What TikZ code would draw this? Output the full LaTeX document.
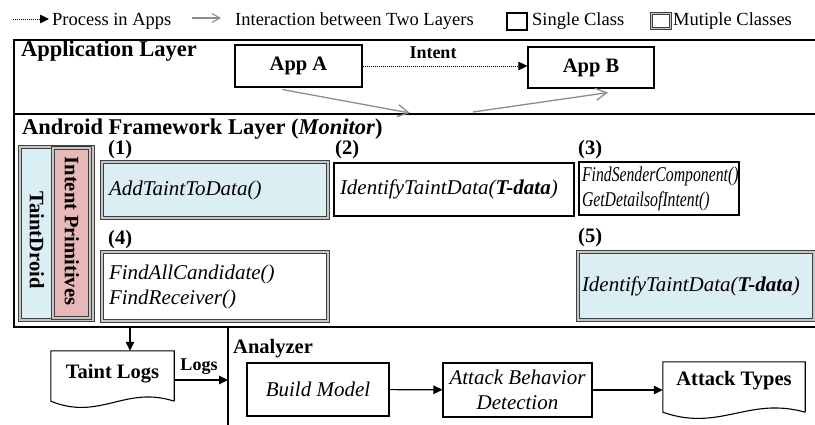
\documentclass[tikz,border=0pt]{standalone}
\usepackage{fontspec}
\usepackage{graphicx}
\setmainfont{Liberation Serif}
\usetikzlibrary{arrows.meta}
\definecolor{lblue}{HTML}{DAEEF3}
\definecolor{lpink}{HTML}{E6B9B8}
\definecolor{igrey}{HTML}{8C8C8C}
\newcommand{\narrowtxt}[1]{\scalebox{0.75}[1]{#1}}
\tikzset{
 txt/.style={font=\fontsize{20.5}{25}\selectfont, inner sep=0pt},
 itx/.style={font=\fontsize{21}{25}\selectfont\itshape},
 btx/.style={font=\fontsize{20.5}{25}\selectfont\bfseries, inner sep=0pt},
 ttl/.style={font=\fontsize{22.5}{26}\selectfont\bfseries, inner sep=0pt},
 lgd/.style={font=\fontsize{18.5}{22}\selectfont, inner sep=0pt},
 sbox/.style={draw=black, line width=1.1pt, fill=white, inner sep=0pt},
 mbox/.style={draw=black!75, line width=0.8pt, double=gray!45, double distance=1.6pt, inner sep=0pt},
 layer/.style={line width=2.4pt},
 doc/.style={line width=1.1pt, fill=white, line join=miter},
 flow/.style={line width=1.1pt, -{Triangle[length=9pt,width=8.5pt]}},
 proc/.style={dash pattern=on 1pt off 1pt, line width=0.8pt, -{Triangle[length=9pt,width=8.5pt,sep=0pt]}},
 inter/.style={draw=igrey, line width=1.3pt, -{Straight Barb[length=11pt,width=12pt]}},
}
\begin{document}
\begin{tikzpicture}[x=1pt,y=-1pt]
\useasboundingbox (0,0) rectangle (815,425);
% ---------- legend
\coordinate (lgA) at (13,19);
\coordinate (lgB) at (49,19);
\draw[proc] (lgA) -- (lgB);
\node[lgd, anchor=base west] (lgt1) at (52,26) {Process in Apps};
\coordinate (lgC) at (192,18);
\coordinate (lgD) at (221,18);
\draw[draw=igrey, line width=1.1pt, -{Straight Barb[length=8pt,width=9pt]}] (lgC) -- (lgD);
\node[lgd, anchor=base west] (lgt2) at (235,26) {Interaction between Two Layers};
\node[sbox, minimum width=20pt, minimum height=17pt] (lgs) at (517,21.5) {};
\node[lgd, anchor=base west] (lgt3) at (532,26) {Single Class};
\node[mbox, fill=white, minimum width=19pt, minimum height=15pt] (lgm) at (661,21) {};
\node[lgd, anchor=base west] (lgt4) at (673,26) {Mutiple Classes};
% ---------- layer frame
\coordinate (fTR) at (816,40);
\coordinate (fTL) at (14,40);
\coordinate (fBL) at (14,327);
\coordinate (fBR) at (816,327);
\coordinate (fML) at (14,114);
\coordinate (fMR) at (816,114);
\draw[layer] (fTR) -- (fTL) -- (fBL) -- (fBR);
\draw[layer] (fML) -- (fMR);
% ---------- application layer
\node[ttl, anchor=base west] (appl) at (21,57) {Application Layer};
\node[sbox, btx, minimum width=127pt, minimum height=42pt] (appA) at (298.5,66) {App A};
\node[sbox, btx, minimum width=126pt, minimum height=41pt] (appB) at (591,67.5) {App B};
\draw[proc] (appA.east) -- (appA.east -| appB.west);
\node[anchor=base, inner sep=0pt, font=\fontsize{18}{20}\selectfont\bfseries] (intent) at (433,59) {Intent};
\coordinate (iaE) at (410,113);
\coordinate (iaS) at (473,112);
\draw[inter] ([xshift=-16pt,yshift=-2pt]appA.south) -- (iaE);
\draw[inter] (iaS) -- ([xshift=17pt,yshift=-4pt]appB.south);
% ---------- android framework layer
\node[ttl, anchor=base west] (andl) at (22,135) {Android Framework Layer (\textit{Monitor})};
\node[mbox, fill=lblue, minimum width=73pt, minimum height=173pt] (td) at (56.5,233.5) {};
\node[mbox, fill=lpink, minimum width=37pt, minimum height=170pt] (ip) at (71.5,233) {};
\node[btx, rotate=-90] (tdt) at (37,240) {TaintDroid};
\node[btx, rotate=-90] (ipt) at (72,231) {Intent Primitives};
% boxes
\node[mbox, fill=lblue, itx, text width=212pt, inner xsep=7pt, inner ysep=0pt, minimum height=56pt, align=left] (b1) at (215,190) {AddTaintToData()};
\node[sbox, itx, text width=228pt, inner xsep=6pt, inner ysep=0pt, minimum height=53pt, align=left] (b2) at (454,189.5) {IdentifyTaintData(\textbf{T-data})};
\node[sbox, itx, text width=154pt, inner xsep=3pt, inner ysep=0pt, minimum height=53pt, align=left] (b3) at (659,188.5) {\narrowtxt{FindSenderComponent()}\\\narrowtxt{GetDetailsofIntent()}};
\node[mbox, fill=white, itx, text width=212pt, inner xsep=7pt, inner ysep=0pt, minimum height=69pt, align=left] (b4) at (215,286.5) {FindAllCandidate()\\FindReceiver()};
\node[mbox, fill=lblue, itx, text width=228pt, inner xsep=4pt, inner ysep=0pt, minimum height=68pt, align=left] (b5) at (696,286) {IdentifyTaintData(\textbf{T-data})};
\node[btx, anchor=base west] (l1) at (108,155) {(1)};
\node[btx, anchor=base west] (l2) at (335,155) {(2)};
\node[btx, anchor=base west] (l3) at (578,155) {(3)};
\node[btx, anchor=base west] (l4) at (108,245) {(4)};
\node[btx, anchor=base west] (l5) at (578,243) {(5)};
% ---------- bottom
\coordinate (tsrc) at (130,327);
\node[minimum width=123pt, minimum height=50pt, inner sep=0pt] (tl) at (112.5,376) {};
\draw[doc] (tl.south east) -- (tl.north east) -- (tl.north west) -- (tl.south west) .. controls +(49,20) and +(-49,-16) .. (tl.south east);
\node[btx, anchor=base] (tlt) at (112.5,378) {Taint Logs};
\draw[flow] (tsrc) -- (tsrc |- tl.north);
\coordinate (anIn) at (228,380);
\draw[flow] (anIn -| tl.east) -- (anIn);
\node[anchor=base, inner sep=0pt, font=\fontsize{18}{20}\selectfont\bfseries] (logsl) at (199,370) {Logs};
\coordinate (vt) at (228,327);
\coordinate (vb) at (228,426);
\draw[line width=1.5pt] (vt) -- (vb);
\node[btx, anchor=base west] (anl) at (233,353) {Analyzer};
\node[sbox, itx, minimum width=142pt, minimum height=53pt] (bm) at (318,389.5) {Build Model};
\node[sbox, itx, minimum width=149pt, minimum height=54pt, align=center] (abd) at (517.5,390) {Attack Behavior\\Detection};
\node[minimum width=142pt, minimum height=50pt, inner sep=0pt] (at) at (734,387) {};
\draw[doc] (at.south east) -- (at.north east) -- (at.north west) -- (at.south west) .. controls +(57,20) and +(-57,-16) .. (at.south east);
\node[btx, anchor=base] (att) at (734,385) {Attack Types};
\draw[flow] (bm) -- (abd);
\draw[flow] (abd.east) -- (abd.east -| at.west);
\end{tikzpicture}
\end{document}
